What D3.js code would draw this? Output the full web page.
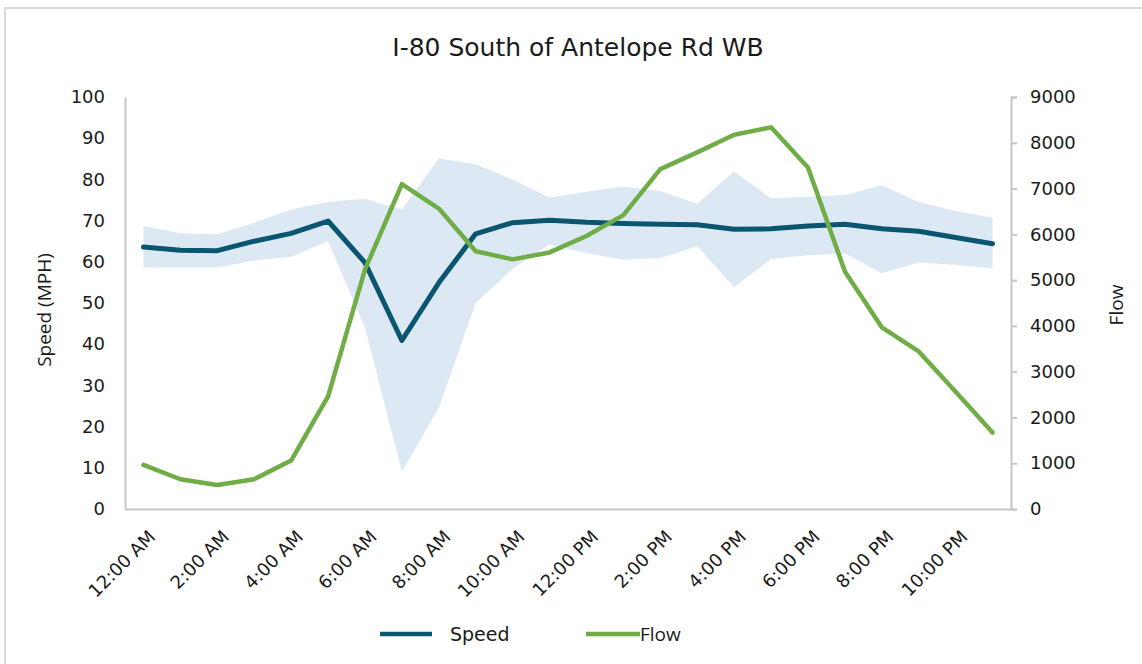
<!DOCTYPE html>
<html>
<head>
<meta charset="utf-8">
<script src="https://cdn.jsdelivr.net/npm/d3@7"></script>
<style>
  body { margin:0; background:#fff; }
  text { font-family: "DejaVu Sans", sans-serif; fill:#1a1a1a; }
  .calibri { font-family: "Open Sans", "Liberation Sans", sans-serif; }
  .axis path, .axis line { stroke:#c6c6c6; stroke-width:2; }
</style>
</head>
<body>
<div id="canvas"></div>
<script>
// hourly categories, labels every 2 hours
var hours = ['12:00 AM','1:00 AM','2:00 AM','3:00 AM','4:00 AM','5:00 AM','6:00 AM','7:00 AM',
  '8:00 AM','9:00 AM','10:00 AM','11:00 AM','12:00 PM','1:00 PM','2:00 PM','3:00 PM',
  '4:00 PM','5:00 PM','6:00 PM','7:00 PM','8:00 PM','9:00 PM','10:00 PM','11:00 PM'];

var speed = [63.6,62.8,62.7,65.0,66.9,69.9,59.8,40.9,54.9,66.8,69.5,70.1,
  69.6,69.3,69.1,69.0,67.9,68.0,68.7,69.1,68.0,67.4,65.9,64.4];

var speedHigh = [68.7,66.9,66.7,69.5,72.7,74.5,75.3,72.7,85.1,83.7,80.0,75.6,
  77.0,78.3,77.2,74.1,81.9,75.4,75.8,76.2,78.6,74.5,72.3,70.7];

var speedLow = [58.6,58.6,58.6,60.3,61.2,65.0,44.0,9.1,24.5,50.0,58.3,64.2,
  62.1,60.5,60.9,63.8,53.8,60.7,61.6,62.0,57.2,59.8,59.3,58.4];

var flow = [964,650,526,650,1058,2460,5230,7096,6563,5630,5453,5605,
  5963,6420,7424,7790,8175,8337,7461,5190,3970,3442,2560,1671];

var speedTicks = [0,10,20,30,40,50,60,70,80,90,100];
var flowTicks = [0,1000,2000,3000,4000,5000,6000,7000,8000,9000];

var W = 1142, H = 664;
var margin = {t:97, r:131, b:155, l:125},
    width = W - margin.l - margin.r,
    height = H - margin.t - margin.b;

var svg = d3.select('#canvas').append('svg')
    .attr('width', W)
    .attr('height', H);

// outer frame
svg.append('rect')
    .attr('x',5).attr('y',8)
    .attr('width',W).attr('height',H)
    .style('fill','none')
    .style('stroke','#d9d9d9')
    .style('stroke-width',2);

svg.append('text')
    .attr('x',578).attr('y',56)
    .attr('text-anchor','middle')
    .style('font-size','25px')
    .text('I-80 South of Antelope Rd WB');

var canvas = svg.append('g')
    .attr('transform','translate('+margin.l+','+margin.t+')');

var x = d3.scaleBand().domain(hours).range([0,width]);
var xc = function(d,i){ return x(hours[i]) + x.bandwidth()/2; };
var y = d3.scaleLinear().domain([0,100]).range([height,0]);
var y2 = d3.scaleLinear().domain([0,9000]).range([height,0]);

// min/max band
var area = d3.area()
    .x(xc)
    .y0(function(d,i){ return y(speedLow[i]); })
    .y1(function(d,i){ return y(speedHigh[i]); });
canvas.append('path')
    .datum(hours)
    .attr('d', area)
    .style('fill','#dde8f5');

// axes
var xAxis = canvas.append('g')
    .attr('class','axis')
    .attr('transform','translate(0,'+height+')')
    .call(d3.axisBottom(x).tickSize(0).tickFormat(function(d,i){ return i%2==0 ? d : ''; }));
xAxis.selectAll('text')
    .style('font-size','18px')
    .attr('text-anchor','end')
    .attr('transform','translate(13,29) rotate(-45)')
    .attr('dy',0)
    .attr('y',0);

var yAxis = canvas.append('g')
    .attr('class','axis')
    .call(d3.axisLeft(y).tickValues(speedTicks).tickSize(0).tickPadding(20));
yAxis.selectAll('text').style('font-size','18px');

var y2Axis = canvas.append('g')
    .attr('class','axis')
    .attr('transform','translate('+width+',0)')
    .call(d3.axisRight(y2).tickValues(flowTicks).tickFormat(d3.format('d'))
        .tickSize(6).tickSizeOuter(6).tickPadding(13));
y2Axis.selectAll('text').style('font-size','18px');

// lines
var speedLine = d3.line().x(xc).y(function(d){ return y(d); });
var flowLine = d3.line().x(xc).y(function(d){ return y2(d); });

canvas.append('path')
    .datum(speed)
    .attr('d', speedLine)
    .style('fill','none')
    .style('stroke','#0a5670')
    .style('stroke-width',5)
    .style('stroke-linejoin','round')
    .style('stroke-linecap','round');

canvas.append('path')
    .datum(flow)
    .attr('d', flowLine)
    .style('fill','none')
    .style('stroke','#70ad47')
    .style('stroke-width',4.5)
    .style('stroke-linejoin','round')
    .style('stroke-linecap','round');

// axis titles
svg.append('text')
    .attr('class','calibri')
    .attr('transform','translate(51,310) rotate(-90)')
    .attr('text-anchor','middle')
    .style('font-size','19px')
    .text('Speed (MPH)');
svg.append('text')
    .attr('class','calibri')
    .attr('transform','translate(1123,305) rotate(-90)')
    .attr('text-anchor','middle')
    .style('font-size','19px')
    .text('Flow');

// legend
var legend = [{name:'Speed', color:'#0a5670', x1:380, x2:432, tx:450, cls:''},
              {name:'Flow', color:'#70ad47', x1:586, x2:640, tx:640, cls:'calibri'}];
legend.forEach(function(l){
    svg.append('line')
        .attr('x1',l.x1).attr('x2',l.x2)
        .attr('y1',634).attr('y2',634)
        .style('stroke',l.color)
        .style('stroke-width',4.5);
    svg.append('text')
        .attr('class',l.cls)
        .attr('x',l.tx).attr('y',641)
        .style('font-size','19px')
        .text(l.name);
});
</script>
</body>
</html>
